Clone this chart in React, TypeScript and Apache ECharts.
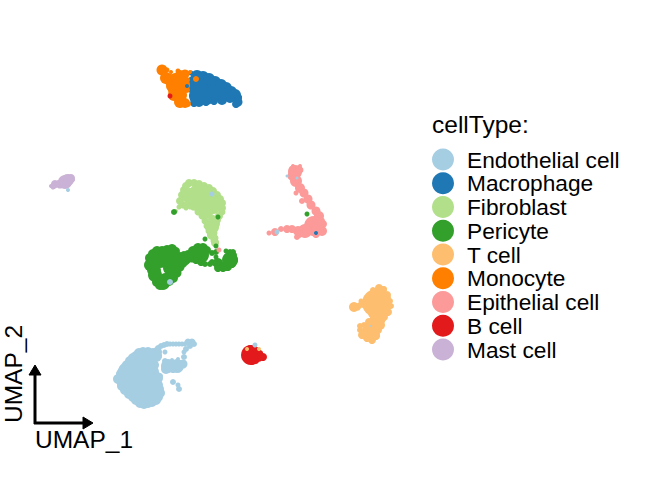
import React, { useEffect, useRef } from "react";
import * as echarts from "echarts";

const cellTypes = ["Endothelial cell","Macrophage","Fibroblast","Pericyte","T cell","Monocyte","Epithelial cell","B cell","Mast cell"];
const colors = ["#A6CEE3","#1F78B4","#B2DF8A","#33A02C","#FDBF6F","#FF7F00","#FB9A99","#E31A1C","#CAB2D6"];

// each point: [x, y, spot diameter]
const endothelial = [[118,379,10],[121,374,10],[124,369,10],[127,365,10],[130,361,10],[133,358,10],[136,356,10],[139,353,10],[143,352,10],[148,352,10],[153,353,10],[122,386,10],[125,390,10],[129,394,10],[133,397,10],[136,400,10],[140,403,10],[144,404,10],[148,403,10],[152,402,10],[156,400,10],[158,397,10],[160,393,10],[159,389,10],[158,385,10],[136,378,40],[145,390,34],[143,366,26],[152,372,14],[157,378,12],[160,376,6],[156,356,12],[154,365,10],[157,352,10],[159,356,6],[168,366,14],[166,369,10],[177,366,14],[183,364,9],[173,369,8],[179,370,5],[165,361,6],[172,360,4],[178,359,4],[184,357,6],[158,348,6],[161,346,6],[164,345,6],[167,344,6],[170,344,5],[173,344,5],[176,344,5],[179,344,5],[182,344,5],[185,344,5],[188,342,7],[192,342,7],[194,344,6],[190,346,6],[186,349,6],[184,352,5],[165,352,5],[173,382,6],[178,385,5],[179,389,6]];
const macrophage = [[205,90,30],[196,85,20],[198,96,18],[222,93,18],[191,73,5],[197,76,12],[203,77,12],[209,79,12],[215,82,12],[221,85,12],[226,88,12],[231,92,12],[235,95,12],[237,98,10],[238,102,9],[236,104,8],[230,98,10],[222,100,10],[214,101,8],[206,102,8],[199,102,10],[194,103,8],[240,97,4]];
const fibroblast = [[189,183,8],[194,183,8],[199,184,8],[204,186,8],[209,188,8],[213,191,8],[217,195,8],[220,199,8],[222,203,8],[222,208,8],[222,212,7],[219,216,8],[217,220,8],[216,224,8],[215,228,7],[214,233,7],[215,238,7],[216,242,6],[213,241,5],[211,236,6],[209,231,7],[207,226,7],[205,221,7],[202,216,7],[198,212,7],[193,208,5],[188,204,7],[183,205,7],[179,207,5],[176,211,4],[180,201,8],[182,195,8],[184,190,8],[186,186,8],[200,198,28],[190,196,16],[213,205,18],[207,213,12],[213,220,10],[212,227,14],[212,235,10],[215,243,8],[186,208,5],[190,207,5]];
const pericyte = [[150,258,10],[153,254,10],[157,251,10],[162,251,10],[167,250,10],[172,249,10],[176,251,8],[180,256,8],[184,255,8],[188,254,8],[193,251,10],[198,248,10],[203,248,10],[207,250,8],[151,264,10],[152,270,10],[155,276,10],[157,282,10],[160,285,10],[164,284,10],[169,281,10],[173,278,10],[177,273,9],[180,267,9],[183,263,9],[187,259,9],[192,258,9],[160,259,18],[172,258,18],[170,268,14],[157,270,8],[165,278,10],[150,265,12],[155,275,14],[163,283,14],[172,272,14],[176,262,12],[165,255,14],[190,256,8],[186,261,8],[194,253,12],[197,253,10],[201,255,16],[196,260,8],[201,262,8],[205,264,6],[210,264,6],[212,262,6],[212,253,6],[216,263,8],[218,263,10],[218,268,8],[223,268,8],[226,266,10],[228,267,8],[232,264,8],[233,260,10],[234,255,6],[233,252,6],[230,252,6],[226,251,5],[230,260,16],[216,252,6],[216,257,5]];
const tCell = [[376,303,28],[380,292,12],[383,290,8],[375,292,8],[367,304,10],[354,307,10],[358,308,5],[359,306,6],[361,301,5],[385,302,12],[388,298,6],[390,306,6],[378,318,16],[366,300,6],[370,296,8],[364,304,8],[360,305,6],[373,290,6],[379,288,8],[384,289,6],[387,295,8],[390,301,6],[391,306,6],[388,312,8],[384,317,8],[380,325,10],[378,330,8],[376,336,8],[372,340,8],[367,338,8],[362,335,8],[360,330,6],[360,326,6],[364,325,6],[369,322,8],[374,313,12],[375,323,14],[370,330,16],[375,335,10]];
const monocyte = [[162,70,11],[166,78,12],[170,80,12],[172,86,12],[175,90,14],[174,95,12],[180,102,12],[185,103,10],[175,78,10],[180,75,10],[185,74,9],[187,80,6],[187,90,6],[181,85,18],[180,95,14],[188,104,6],[190,72,4],[178,71,5],[171,72,4],[167,70,5]];
const epithelial = [[293,170,9],[298,170,9],[300,170,7],[295,172,14],[292,176,9],[296,181,12],[300,188,10],[304,193,9],[308,199,9],[311,205,9],[316,211,9],[319,216,10],[321,221,8],[323,224,8],[322,231,10],[316,234,8],[314,226,20],[305,231,14],[298,231,10],[299,234,8],[297,237,6],[292,229,8],[287,229,8],[281,229,6],[275,232,8],[269,233,5],[302,201,6],[306,200,4],[296,193,5],[293,166,4],[300,166,4]];
const bCell = [[251,355,20],[258,356,12],[263,357,8],[260,353,6],[247,351,7],[250,348,6],[255,349,6],[246,356,6],[256,361,6],[249,361,5],[252,362,6]];
const mastCell = [[65,182,14],[68,180,12],[60,184,9],[54,186,6],[70,179,9],[55,184,8],[71,178,8],[73,180,4],[53,187,5],[51,186,4],[66,177,5]];
const clusters = [endothelial,macrophage,fibroblast,pericyte,tCell,monocyte,epithelial,bCell,mastCell];

// cells lying inside another type's island, drawn on top; first number is the type's index
const strays = [
  [0,212,194,5],[3,218,217,5],[3,174,212,6],[3,205,239,5],[3,216,246,5],[6,219,250,5],[0,170,282,6],
  [7,170,96,5],[1,187,86,4],[5,196,79,6],[3,307,214,5],[1,316,233,4],[0,277,232,5],[0,287,176,3],[0,297,178,3],
  [0,371,326,2],[0,255,345,5],[4,247,349,4],[4,259,349,4],[0,68,190,4],
];

export default function App() {
  const ref = useRef<HTMLDivElement>(null);
  useEffect(() => {
    const chart = echarts.init(ref.current!, null, { renderer: "svg" });
    const series: any[] = cellTypes.map((name, i) => ({
      name, type: "scatter", data: clusters[i], symbol: "circle",
      symbolSize: (v: number[]) => v[2], itemStyle: { color: colors[i], opacity: 1 },
      silent: true, z: 2,
    }));
    series.push({
      name: "strays", type: "scatter", symbol: "circle",
      data: strays.map((s) => ({ value: s.slice(1), itemStyle: { color: colors[s[0]], opacity: 1 } })),
      symbolSize: (v: number[]) => v[2], silent: true, z: 3,
    });
    const black = "#000";
    const font = "Liberation Sans";
    chart.setOption({
      animation: false,
      backgroundColor: "#fff",
      grid: { left: 0, right: 0, top: 0, bottom: 0 },
      xAxis: { type: "value", min: 0, max: 650, show: false },
      yAxis: { type: "value", min: 0, max: 480, inverse: true, show: false },
      legend: {
        data: cellTypes, orient: "vertical", left: 432, top: 148, padding: 0,
        itemWidth: 22, itemHeight: 22, itemGap: 0.75, icon: "circle",
        selectedMode: false,
        textStyle: { fontFamily: font, fontSize: 22.7, color: black, padding: [0,0,0,8], lineHeight: 22 },
      },
      graphic: [
        { type: "text", left: 432, top: 112, style: { text: "cellType:", font: `24.5px "${font}"`, fill: black } },
        { type: "text", x: 35, y: 427, style: { text: "UMAP_1", font: `24.5px "${font}"`, fill: black } },
        { type: "text", x: 1, y: 423, rotation: Math.PI / 2, originX: 0, originY: 0,
          style: { text: "UMAP_2", font: `24.5px "${font}"`, fill: black, align: "left", verticalAlign: "top" } },
        { type: "line", shape: { x1: 35, y1: 424, x2: 35, y2: 370 }, style: { stroke: black, lineWidth: 3 } },
        { type: "line", shape: { x1: 34, y1: 423, x2: 88, y2: 423 }, style: { stroke: black, lineWidth: 3 } },
        { type: "polygon", shape: { points: [[35,365],[41,375],[29,375]] }, style: { fill: black, stroke: black, lineWidth: 1 } },
        { type: "polygon", shape: { points: [[93,423],[83,417],[83,429]] }, style: { fill: black, stroke: black, lineWidth: 1 } },
      ],
      series,
    });
    return () => chart.dispose();
  }, []);
  return <div ref={ref} style={{ position: "absolute", left: 0, top: 0, width: 650, height: 480 }} />;
}
